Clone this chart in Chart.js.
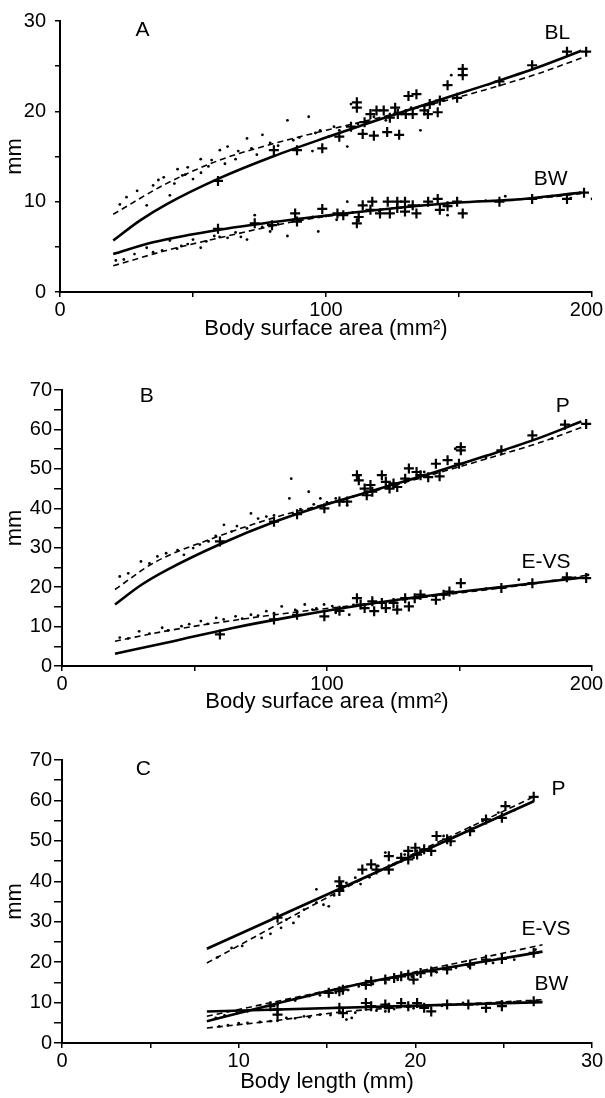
<!DOCTYPE html>
<html>
<head>
<meta charset="utf-8">
<script src="https://cdn.jsdelivr.net/npm/chart.js@4/dist/chart.umd.min.js"></script>
<style>
  html, body { margin: 0; padding: 0; background: #fff; overflow: hidden; width: 605px; height: 1098px; }
  canvas { position: absolute; left: 0; }
</style>
</head>
<body>
<canvas id="chart-a" width="640" height="342" style="top:0px"></canvas>
<canvas id="chart-b" width="640" height="370" style="top:345px"></canvas>
<canvas id="chart-c" width="640" height="380" style="top:715px"></canvas>
<script>
// ---- Panel A: vs body surface area ----
const aBLSolid = [[20, 5.7], [30, 7.9], [40, 9.7], [60, 12.6], [80, 15.0], [100, 17.1], [120, 19.1], [140, 21.0], [160, 22.9], [180, 24.9], [196, 26.7]];
const aBLDashed = [[20, 8.6], [40, 12.0], [60, 14.6], [80, 16.4], [100, 17.9], [120, 19.3], [140, 20.8], [160, 22.4], [180, 24.2], [196, 25.9]];
const aBWSolid = [[20, 4.2], [35, 5.5], [60, 6.9], [90, 8.1], [120, 9.1], [150, 9.9], [170, 10.2], [196, 11.0]];
const aBWDashed = [[20, 2.9], [40, 4.6], [60, 6.0], [90, 7.9], [120, 9.1], [150, 9.9], [180, 10.4], [196, 10.9]];
const aBLPlus = [[59.4, 12.3], [80.4, 15.7], [89.1, 15.7], [98.6, 15.9], [105, 17.2], [111.6, 21.0], [111.6, 20.4], [109.4, 18.3],
  [114.5, 18.8], [116.7, 19.7], [113.8, 17.5], [118, 17.3], [123, 17.7], [127.5, 17.4], [119, 20.1], [121.7, 20.1], [126, 20.4],
  [124, 19.3], [127, 19.7], [130, 19.7], [132.6, 19.7], [131, 21.7], [134, 21.9], [137, 20.1], [139, 20.8], [142, 19.9], [138.3, 19.7],
  [142.8, 21.2], [145.7, 22.9], [151.4, 24.7], [151.4, 24.0], [149.3, 21.5], [165.2, 23.3], [177.5, 25.1], [190.6, 26.6], [197.8, 26.6]];
const aBLDots = [[22.5, 9.7], [29, 11.2], [32.6, 9.6], [39, 12.7], [41.3, 10.7], [44.2, 13.6], [47.1, 13.0], [50, 12.5], [52.9, 14.7],
  [55.8, 13.9], [60.1, 15.7], [63, 16.1], [66, 14.7], [70.3, 17.0], [76.1, 17.4], [79, 16.5], [85.5, 19.0], [87.7, 16.8], [93.5, 19.4],
  [94.9, 15.6], [101, 17.2], [105, 17.9], [108, 16.1], [109.4, 20.8], [147.1, 24.0], [97.8, 17.9], [122.5, 19.0], [135.5, 17.9],
  [25, 10.5], [35, 11.8], [37, 12.4], [43, 12.0], [46, 12.9], [48, 13.8], [53, 13.2], [57, 14.6], [62, 14.2], [67, 15.6], [72, 15.9],
  [74, 15.2], [82, 16.2], [90, 17.1], [96, 17.6], [103, 18.3], [112, 18.6], [118, 19.4], [126, 19.9], [132, 20.4]];
const aBWPlus = [[59.4, 7.0], [73.2, 7.6], [79.7, 7.4], [88.4, 8.7], [89.1, 7.8], [98.6, 9.2], [104.3, 8.7], [106.5, 8.5], [111.6, 7.6],
  [112.3, 8.3], [113.8, 9.6], [117.4, 10.0], [116.7, 9.1], [120.3, 8.7], [124, 8.7], [123.2, 10.0], [126.8, 10.0], [126.8, 9.3],
  [129.7, 10.0], [129.7, 8.9], [132.6, 9.6], [134, 8.7], [138.4, 10.0], [142, 10.3], [142.8, 9.1], [145.7, 9.5], [149.3, 10.0],
  [151.4, 8.7], [165.2, 10.0], [177.5, 10.3], [190.6, 10.3], [197, 11.0]];
const aBWDots = [[21, 3.5], [32.6, 4.9], [38.4, 4.6], [41.3, 5.7], [45.6, 5.1], [50, 5.8], [52.9, 4.9], [58, 6.2], [63, 6.0], [70.3, 5.8],
  [73.2, 8.5], [79, 6.7], [85.5, 6.2], [87.7, 8.0], [97.1, 6.7], [104, 8.0], [108, 10.0], [145.7, 8.5], [167.4, 10.6], [200, 10.3],
  [24, 3.6], [28, 4.2], [35, 4.4], [44, 4.8], [48, 5.3], [55, 5.6], [60, 6.1], [66, 6.6], [68, 6.1], [76, 7.2], [82, 7.5], [90, 7.9],
  [95, 8.3], [100, 8.4], [110, 8.8], [120, 9.0], [135, 9.6], [160, 10.1], [185, 10.6], [192, 10.4]];
const aLabels = [['A', 31, 29], ['BL', 187, 28.6], ['BW', 184.5, 12.5]];

// ---- Panel B: vs body surface area ----
const bPSolid = [[20, 15.6], [30, 20.6], [40, 24.5], [60, 31.0], [80, 36.5], [100, 41.0], [120, 45.0], [140, 49.0], [160, 53.3], [180, 57.8], [196, 62.0]];
const bPDashed = [[20, 19.4], [35, 26.3], [57, 32.4], [80, 37.6], [100, 41.2], [120, 44.8], [140, 48.6], [160, 52.5], [180, 56.6], [196, 60.5]];
const bEVSolid = [[20, 3.1], [42, 6.3], [64, 9.6], [86, 12.4], [108, 14.9], [130, 17.1], [151, 18.9], [173, 20.6], [196, 22.4]];
const bEVDashed = [[20, 6.3], [42, 9.2], [64, 11.5], [86, 13.5], [108, 15.2], [130, 16.9], [151, 18.6], [173, 20.4], [198, 23.0]];
const bPPlus = [[59.6, 31.6], [80, 36.6], [88.7, 38.5], [99, 40.0], [104.7, 41.7], [107.6, 41.7], [111.3, 48.4], [112, 47.1], [114.2, 45.0],
  [115, 43.3], [117.1, 44.2], [116.4, 45.9], [120.7, 48.4], [122.2, 46.7], [123.6, 45.0], [125.1, 46.3], [126.5, 45.4], [129.5, 47.5],
  [130.9, 50.1], [133.8, 49.2], [135.3, 48.4], [138.2, 47.9], [141.1, 51.3], [145.5, 52.2], [150.5, 55.5], [150.5, 54.7], [149.8, 51.3],
  [142.5, 48.1], [165.8, 54.7], [177.5, 58.5], [189.8, 61.2], [197.8, 61.4]];
const bPDots = [[21.8, 22.7], [29.8, 26.5], [39.3, 28.6], [43.6, 29.4], [49.5, 29.9], [55.3, 31.6], [61.1, 35.8], [64, 34.1], [71.3, 38.7],
  [77.1, 37.9], [85.8, 42.5], [86.5, 47.5], [93.1, 44.2], [97.5, 42.5], [103.3, 42.5], [107.6, 40.8], [148.4, 55.1], [136.7, 49.2], [69.8, 34.9],
  [25, 23.5], [33, 26.0], [36, 27.8], [46, 28.2], [52, 30.8], [58, 33.0], [66, 35.5], [74, 37.4], [80, 38.2], [90, 39.8], [95, 41.0],
  [100, 41.5], [110, 43.0], [118, 44.5], [125, 46.0], [132, 47.4], [160, 52.8], [185, 57.7]];
const bEVPlus = [[59.6, 8.0], [80, 11.8], [88.7, 13.0], [99, 12.6], [104.7, 14.0], [111.3, 17.2], [112.7, 15.6], [114.2, 14.7], [117.8, 13.9],
  [117.1, 16.4], [120.7, 16.0], [122.2, 14.7], [125.1, 16.0], [126.5, 14.3], [129.5, 17.2], [130.9, 15.1], [133.1, 17.2], [135.3, 18.1],
  [141.1, 16.8], [144, 18.1], [146.2, 18.9], [150.5, 21.0], [165.8, 19.8], [177.5, 21.0], [190.5, 22.5], [197.8, 22.3]];
const bEVDots = [[21.8, 7.2], [29.1, 8.8], [37.8, 9.7], [45.1, 10.1], [52.4, 11.4], [58.2, 12.2], [65.5, 12.6], [71.3, 13.0], [77.1, 13.9],
  [82.9, 15.1], [91.6, 15.6], [94.5, 14.3], [98.9, 15.6], [103.3, 13.5], [108.4, 13.0], [172.4, 21.9], [198.5, 23.1],
  [25, 7.0], [33, 8.2], [40, 9.0], [48, 10.6], [55, 10.7], [61, 11.8], [68, 12.0], [74, 12.8], [80, 13.4], [88, 14.2], [96, 14.6],
  [102, 15.2], [110, 15.5], [120, 16.2], [135, 17.2], [160, 19.6], [185, 21.6]];
const bLabels = [['B', 32, 68.5], ['P', 189, 66], ['E-VS', 182.6, 26.4]];

// ---- Panel C: vs body length ----
const cPSolid = [[8.2, 23.3], [26.7, 59.8]];
const cPDashed = [[8.2, 19.8], [17, 40.5], [26.6, 60.7]];
const cEVSolid = [[8.2, 5.4], [12, 9.6], [16, 13.8], [20, 17.3], [24, 20.2], [27.2, 22.6]];
const cEVDashed = [[8.2, 6.6], [27.2, 24.3]];
const cBWSolid = [[8.2, 7.8], [27.2, 10.1]];
const cBWDashed = [[8.2, 3.7], [11.8, 5.4], [16.1, 7.8], [20.5, 9.1], [27.2, 10.7]];
const cPPlus = [[12.2, 31], [15.7, 40.0], [15.7, 37.6], [15.8, 38.8], [17.0, 42.9], [17.5, 44.2], [17.8, 42.9], [18.5, 42.9], [19.2, 45.8],
  [19.6, 47.5], [20.0, 48.3], [20.1, 46.6], [20.5, 47.9], [20.9, 47.5], [21.2, 51.2], [21.8, 50.4], [22.0, 49.9], [23.1, 52.4],
  [24.0, 55.3], [24.9, 55.7], [25.1, 58.6], [26.7, 60.9], [18.5, 46.2], [19.6, 45.4]];
const cPDots = [[9.6, 23.5], [11.3, 26.0], [12.7, 30.5], [13.1, 29.7], [13.7, 33.0], [14.4, 34.7], [15.1, 33.8], [16.1, 39.6], [16.6, 40.9],
  [17.9, 43.8], [18.3, 47.1], [19.4, 46.6], [21.6, 51.2], [23.8, 54.9], [24.7, 57.0], [14.4, 38.0],
  [8.8, 21.2], [10.2, 24.0], [11.8, 27.0], [12.4, 28.5], [13.4, 31.3], [14.8, 34.2], [15.4, 36.5], [16.9, 39.3], [17.4, 41.0],
  [18.8, 44.2], [19.9, 45.8], [20.6, 47.8], [22.2, 51.0], [23.2, 53.0], [25.6, 57.6]];
const cEVPlus = [[11.8, 9.1], [15.7, 12.8], [15.9, 13.2], [17.2, 14.4], [17.5, 15.3], [18.3, 15.7], [18.8, 16.1], [19.6, 16.9], [19.9, 15.7],
  [20.3, 17.3], [20.9, 17.7], [21.8, 18.2], [23.1, 19.4], [24.0, 20.6], [24.9, 20.8], [26.7, 22.3], [15.1, 12.4], [19.2, 16.5]];
const cEVDots = [[8.7, 6.2], [10.5, 7.8], [12.2, 9.5], [14.0, 11.6], [15.5, 12.4], [16.8, 14.0], [18.3, 14.9], [20.1, 16.9], [22.3, 18.6],
  [24.4, 19.8], [26.8, 23.1], [9.2, 6.8], [9.9, 7.4], [11.2, 8.6], [13.2, 10.5], [14.6, 11.8], [16.2, 13.1], [17.6, 14.6], [19.0, 15.6],
  [19.8, 16.4], [21.2, 17.5], [23.0, 18.9], [25.6, 20.6]];
const cBWPlus = [[12.2, 8.3], [12.2, 7.0], [15.7, 8.7], [15.9, 7.4], [17.2, 9.9], [17.5, 9.1], [18.3, 9.5], [19.2, 9.9], [19.6, 9.1],
  [20.1, 9.9], [20.5, 8.7], [20.9, 7.8], [21.8, 9.5], [23.0, 9.5], [24.0, 8.7], [24.9, 9.1], [26.7, 10.3], [18.5, 8.7]];
const cBWDots = [[8.9, 4.1], [10.5, 5.0], [11.8, 5.4], [12.7, 6.2], [13.7, 6.6], [14.6, 7.0], [15.7, 7.8], [16.1, 5.8], [17.2, 8.3],
  [18.3, 7.8], [19.4, 9.1], [20.5, 9.1], [22.7, 9.9], [24.9, 10.3], [9.4, 4.4], [10.0, 4.9], [11.2, 5.2], [12.2, 5.5], [13.2, 6.1],
  [14.0, 6.4], [15.2, 6.9], [16.6, 7.5], [17.8, 8.0], [18.8, 8.4], [19.9, 8.6], [21.5, 9.2], [23.5, 9.6], [25.6, 10.1], [16.4, 6.2]];
const cLabels = [['C', 4.6, 67.8], ['P', 28.1, 62.8], ['E-VS', 27.4, 28.2], ['BW', 27.7, 14.6]];

const FONT = '"Liberation Sans", Arial, sans-serif';

function toPoints(pairs) {
  return pairs.map(p => ({ x: p[0], y: p[1] }));
}

function plusSet(pairs) {
  return { data: toPoints(pairs), pointStyle: 'cross', pointRadius: 5, borderColor: '#000', borderWidth: 2.2, showLine: false };
}

function dotSet(pairs) {
  return { data: toPoints(pairs), pointStyle: 'circle', pointRadius: 1.4, backgroundColor: '#000', borderWidth: 0, showLine: false };
}

function lineSet(pairs, dashed) {
  return {
    data: toPoints(pairs), showLine: true, pointRadius: 0, borderColor: '#000',
    borderWidth: dashed ? 1.6 : 2.6, borderDash: dashed ? [6, 4] : [],
    tension: 0.4, cubicInterpolationMode: 'monotone'
  };
}

// draws the panel letter and curve names at data positions
const panelText = {
  id: 'panelText',
  afterDatasetsDraw(chart, args, opts) {
    const ctx = chart.ctx;
    const xs = chart.scales.x, ys = chart.scales.y;
    ctx.save();
    ctx.fillStyle = '#000';
    ctx.font = '21px ' + FONT;
    ctx.textAlign = 'center';
    ctx.textBaseline = 'middle';
    opts.items.forEach(item => {
      ctx.fillText(item[0], xs.getPixelForValue(item[1]), ys.getPixelForValue(item[2]));
    });
    ctx.restore();
  }
};

function makePanel(id, setup) {
  const ctx = document.getElementById(id).getContext('2d');
  return new Chart(ctx, {
    type: 'scatter',
    data: { datasets: setup.datasets },
    options: {
      responsive: false,
      animation: false,
      devicePixelRatio: 1,
      layout: { padding: { top: setup.top, left: 0, right: 48, bottom: 0 } },
      plugins: { legend: { display: false }, tooltip: { enabled: false }, panelText: { items: setup.labels } },
      scales: {
        x: {
          type: 'linear', min: 0, max: setup.xMax,
          border: { color: '#000', width: 2 },
          grid: { drawOnChartArea: false, color: '#000', lineWidth: 1.5, tickLength: 5 },
          ticks: {
            stepSize: setup.xStep, padding: 1, color: '#000', font: { family: FONT, size: 20 },
            maxRotation: 0, autoSkip: false,
            // the last label sits a little left of its tick, as in the original
            callback: v => (v % setup.xLabelEvery !== 0 ? '' : (v === 200 ? v + '\u2007' : v))
          },
          title: { display: true, text: setup.xTitle, color: '#000', font: { family: FONT, size: 22 }, padding: { top: 0, bottom: 0 } },
          afterFit: s => { s.height = setup.xHeight; }
        },
        y: {
          type: 'linear', min: 0, max: setup.yMax,
          border: { color: '#000', width: 2 },
          grid: { drawOnChartArea: false, color: '#000', lineWidth: 1.5, tickLength: setup.yTick },
          ticks: {
            stepSize: 5, padding: setup.yPad, color: '#000', font: { family: FONT, size: 20 }, autoSkip: false,
            callback: v => (v % 10 === 0 ? v : '')
          },
          title: { display: true, text: 'mm', color: '#000', font: { family: FONT, size: 22 }, padding: { top: 2, bottom: 0 } },
          afterFit: s => { s.width = setup.yWidth; }
        }
      }
    },
    plugins: [panelText]
  });
}

makePanel('chart-a', {
  top: 15, xMax: 200, xStep: 50, xLabelEvery: 100, yMax: 30, xHeight: 50, yWidth: 60, yTick: 5, yPad: 9,
  xTitle: ['Body surface area (mm²)'], labels: aLabels,
  datasets: [plusSet(aBLPlus), dotSet(aBLDots), plusSet(aBWPlus), dotSet(aBWDots),
    lineSet(aBLSolid, false), lineSet(aBLDashed, true), lineSet(aBWSolid, false), lineSet(aBWDashed, true)]
});

makePanel('chart-b', {
  top: 45, xMax: 200, xStep: 50, xLabelEvery: 100, yMax: 70, xHeight: 49, yWidth: 62, yTick: 8, yPad: 2,
  xTitle: ['Body surface area (mm²)'], labels: bLabels,
  datasets: [plusSet(bPPlus), dotSet(bPDots), plusSet(bEVPlus), dotSet(bEVDots),
    lineSet(bPSolid, false), lineSet(bPDashed, true), lineSet(bEVSolid, false), lineSet(bEVDashed, true)]
});

makePanel('chart-c', {
  top: 45, xMax: 30, xStep: 5, xLabelEvery: 10, yMax: 70, xHeight: 52, yWidth: 62, yTick: 8, yPad: 2,
  xTitle: ['Body length (mm)'], labels: cLabels,
  datasets: [plusSet(cPPlus), dotSet(cPDots), plusSet(cEVPlus), dotSet(cEVDots), plusSet(cBWPlus), dotSet(cBWDots),
    lineSet(cPSolid, false), lineSet(cPDashed, true), lineSet(cEVSolid, false), lineSet(cEVDashed, true),
    lineSet(cBWSolid, false), lineSet(cBWDashed, true)]
});
</script>
</body>
</html>
